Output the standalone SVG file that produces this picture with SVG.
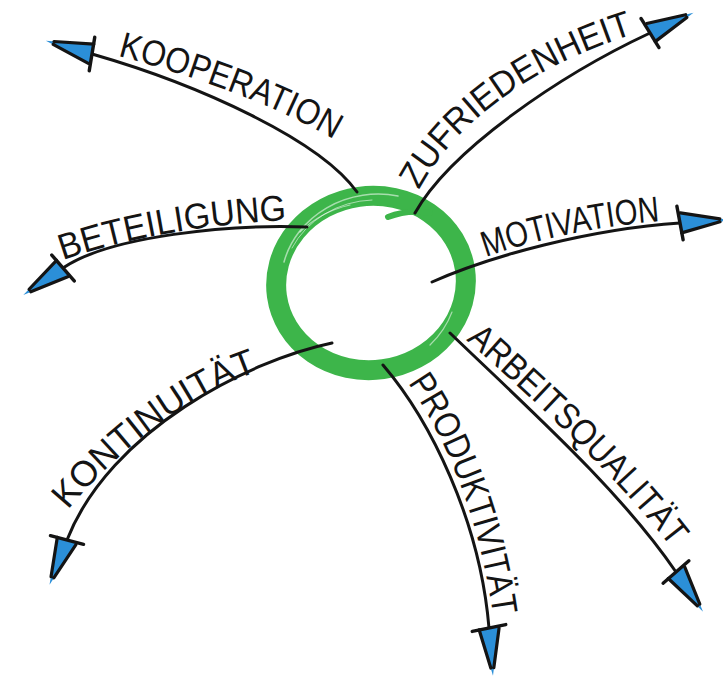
<svg xmlns="http://www.w3.org/2000/svg" xmlns:xlink="http://www.w3.org/1999/xlink" width="723" height="676" viewBox="0 0 723 676">
  <style>
    .wire { fill: none; stroke: #141414; stroke-width: 3; stroke-linecap: round; marker-end: url(#head); }
    .lbl { font-family: "Liberation Sans", Arial, sans-serif; font-size: 36px; fill: #141414; }
    .ring { fill: none; stroke: #3db54a; stroke-width: 20; }
    .streak { fill: none; stroke: #ffffff; stroke-linecap: round; opacity: 0.55; }
  </style>
  <defs>
    <!-- hand-drawn style arrowhead: blue wedge, black outline and crossbar -->
    <marker id="head" markerUnits="userSpaceOnUse" viewBox="-8 -22 60 44" refX="0" refY="0" markerWidth="60" markerHeight="44" orient="auto" overflow="visible">
      <path d="M0,-10 L48,0 L0,10 Z" fill="#2b8fd8"/>
      <path d="M1,-10 L40,-1.5 M1,10 L40,1.5" fill="none" stroke="#141414" stroke-width="3.2" stroke-linecap="round"/>
      <path d="M-2,-17 L2,17" fill="none" stroke="#141414" stroke-width="3.4" stroke-linecap="round"/>
    </marker>
    <!-- baselines for the labels -->
    <path id="p-koop" d="M118,56 C180,72 270,102 335,140"/>
    <path id="p-bete" d="M63,260 C120,240 200,224 292,220"/>
    <path id="p-zufr" d="M419,190 C441,148 500,75 640,32"/>
    <path id="p-moti" d="M486,257 C530,241 600,225 665,221"/>
    <path id="p-kont" d="M68,510 C113,455 185,395 262,370"/>
    <path id="p-prod" d="M408,383 C440,430 478,505 494,622"/>
    <path id="p-arbe" d="M466,340 C540,405 620,480 673,550"/>
  </defs>

  <rect width="723" height="676" fill="#ffffff"/>

  <!-- central brush ring -->
  <g id="hub">
    <ellipse class="ring" cx="371" cy="283" rx="95" ry="87" transform="rotate(-8 371 283)"/>
    <path d="M388,217 Q408,209 430,213" fill="none" stroke="#3db54a" stroke-width="6" stroke-linecap="round"/>
    <path class="streak" stroke-width="1.5" d="M284,262 A95 87 -8 0 1 398,196"/>
    <path class="streak" stroke-width="1" d="M292,248 A90 82 -8 0 1 372,200"/>
    <path class="streak" stroke-width="1.2" d="M300,232 A100 92 -8 0 1 350,205"/>
    <path class="streak" stroke-width="1.2" d="M452,312 A95 87 -8 0 1 430,345"/>
  </g>

  <!-- arrows radiating from the ring -->
  <g id="connectors">
    <path class="wire" d="M357,192 C320,140 200,85 92,54"/>
    <path class="wire" d="M307,227 C230,224 110,236 63,268"/>
    <path class="wire" d="M415,213 C450,150 560,75 650,33"/>
    <path class="wire" d="M432,282 C490,256 590,229 680,223"/>
    <path class="wire" d="M332,343 C250,360 110,430 67,540"/>
    <path class="wire" d="M383,365 C430,420 480,520 489,628"/>
    <path class="wire" d="M450,333 C530,410 620,490 676,572"/>
  </g>

  <g id="kooperation">
    <text class="lbl"><textPath xlink:href="#p-koop" href="#p-koop" textLength="232" lengthAdjust="spacingAndGlyphs">KOOPERATION</textPath></text>
  </g>
  <g id="beteiligung">
    <text class="lbl"><textPath xlink:href="#p-bete" href="#p-bete" textLength="228" lengthAdjust="spacingAndGlyphs">BETEILIGUNG</textPath></text>
  </g>
  <g id="zufriedenheit">
    <text class="lbl"><textPath xlink:href="#p-zufr" href="#p-zufr" textLength="272" lengthAdjust="spacingAndGlyphs">ZUFRIEDENHEIT</textPath></text>
  </g>
  <g id="motivation">
    <text class="lbl"><textPath xlink:href="#p-moti" href="#p-moti" textLength="178" lengthAdjust="spacingAndGlyphs">MOTIVATION</textPath></text>
  </g>
  <g id="kontinuitaet">
    <text class="lbl"><textPath xlink:href="#p-kont" href="#p-kont" textLength="238" lengthAdjust="spacingAndGlyphs">KONTINUITÄT</textPath></text>
  </g>
  <g id="produktivitaet">
    <text class="lbl"><textPath xlink:href="#p-prod" href="#p-prod" textLength="250" lengthAdjust="spacingAndGlyphs">PRODUKTIVITÄT</textPath></text>
  </g>
  <g id="arbeitsqualitaet">
    <text class="lbl"><textPath xlink:href="#p-arbe" href="#p-arbe" textLength="292" lengthAdjust="spacingAndGlyphs">ARBEITSQUALITÄT</textPath></text>
  </g>
</svg>
